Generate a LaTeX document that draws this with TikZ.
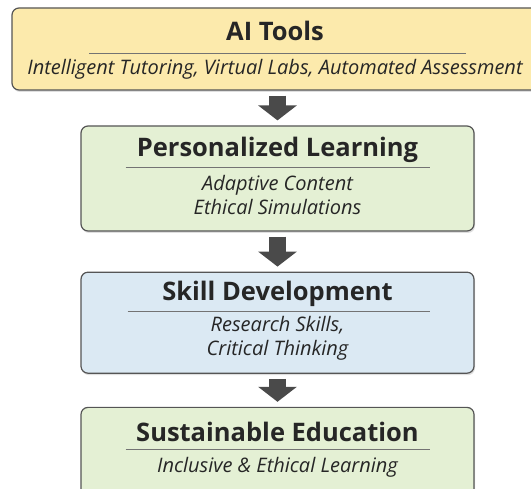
\documentclass[tikz,border=0pt]{standalone}
\usepackage{fontspec}
\setmainfont{Open Sans}
\usepackage{xcolor}
\usetikzlibrary{positioning,calc,shadows,arrows.meta}

\definecolor{toolfill}{RGB}{252,234,172}
\definecolor{learnfill}{RGB}{228,240,212}
\definecolor{skillfill}{RGB}{219,233,243}
\definecolor{edgegray}{RGB}{85,85,85}
\definecolor{arrowgray}{RGB}{74,74,74}

\begin{document}
\begin{tikzpicture}[x=1pt, y=1pt,
    box/.style={draw=edgegray, line width=1.2pt, rounded corners=7pt, minimum width=393pt,
        drop shadow={opacity=0.25, shadow xshift=1pt, shadow yshift=-2pt}},
    title/.style={font=\fontsize{25.5}{28}\selectfont\bfseries, text=black!85},
    detail/.style={font=\fontsize{20}{24}\selectfont\itshape, text=black!85, align=center, inner sep=0pt},
    rule/.style={draw=black!55, line width=0.7pt},
    flow/.style={draw=arrowgray, line width=17pt, shorten <=5pt, shorten >=5pt,
        -{Triangle[length=15pt, width=38pt]}}]
    \useasboundingbox (0,0) rectangle (531,-489);

    % Stages
    \node[box, fill=toolfill, minimum width=526pt, minimum height=82pt] (tools) at (275,-49) {};
    \node[box, fill=learnfill, minimum height=105pt] (learn) at (277.5,-178.5) {};
    \node[box, fill=skillfill, minimum height=101pt, below=40pt of learn] (skill) {};
    \node[box, fill=learnfill, minimum height=96pt, below=33pt of skill] (sustain) {};

    % Titles
    \node[title] (tools-title) at ([yshift=-24pt]tools.north) {AI Tools};
    \node[title] (learn-title) at ([yshift=-24pt]learn.north) {Personalized Learning};
    \node[title] (skill-title) at ([yshift=-22pt]skill.north) {Skill Development};
    \node[title] (sustain-title) at ([yshift=-25pt]sustain.north) {Sustainable Education};

    % Rules under the titles
    \draw[rule] ([xshift=-186pt,yshift=-46pt]tools.north) -- ([xshift=191pt,yshift=-46pt]tools.north);
    \draw[rule] ([xshift=-152pt,yshift=-42pt]learn.north) -- ([xshift=152pt,yshift=-42pt]learn.north);
    \draw[rule] ([xshift=-150pt,yshift=-40pt]skill.north) -- ([xshift=152pt,yshift=-40pt]skill.north);
    \draw[rule] ([xshift=-152pt,yshift=-43pt]sustain.north) -- ([xshift=152pt,yshift=-43pt]sustain.north);

    % Details
    \node[detail] (tools-text) at ([yshift=-62pt]tools.north) {Intelligent Tutoring, Virtual Labs, Automated Assessment};
    \node[detail] (learn-text) at ([yshift=-70pt]learn.north) {Adaptive Content\\Ethical Simulations};
    \node[detail] (skill-text) at ([yshift=-67pt]skill.north) {Research Skills,\\Critical Thinking};
    \node[detail] (sustain-text) at ([yshift=-61pt]sustain.north) {Inclusive \& Ethical Learning};

    % Flow arrows
    \draw[flow] (learn.north |- tools.south) -- (learn.north);
    \draw[flow] (learn.south) -- (skill.north);
    \draw[flow] (skill.south) -- (sustain.north);
\end{tikzpicture}
\end{document}
